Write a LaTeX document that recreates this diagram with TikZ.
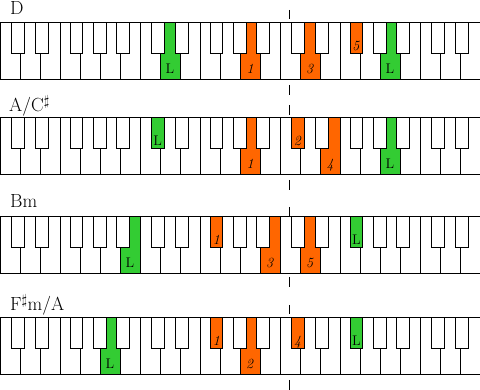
\documentclass[tikz,border=0pt]{standalone}
\definecolor{kgreen}{RGB}{51,204,51}
\definecolor{korange}{RGB}{255,102,0}
\tikzset{
  key/.style={draw=black, line width=1pt, fill=white},
  lbl/.style={font=\fontsize{14}{14}\selectfont, inner sep=0pt, anchor=base},
  chord/.style={font=\fontsize{19}{19}\selectfont, inner sep=0pt, anchor=base west},
  guide/.style={draw=black, line width=1pt}
}
% all white keys of one keyboard, top at #1
\newcommand\whitekeys[1]{%
  \foreach \i in {0,...,23} \draw[key] ({20*\i},#1) rectangle ++(20,57);}
% all black keys of one keyboard, top at #1
\newcommand\blackkeys[1]{%
  \foreach \o in {0,140,280,420}{%
    \foreach \b in {11.3,35.5,70,93.3,116.7}{%
      \pgfmathsetmacro\bx{\o+\b}%
      \ifdim \bx pt<470pt \draw[key] (\bx,#1) rectangle ++(12.7,31);\fi}}}
% coloured white key: x, top, colour, label, node name
\newcommand\wkey[5]{%
  \draw[key,fill=#3] (#1,#2) rectangle ++(20,57);
  \node[lbl] (#5) at ({#1+10},{#2+51}) {#4};}
% coloured black key: x, top, colour, label, node name
\newcommand\bkey[5]{%
  \draw[key,fill=#3] (#1,#2) rectangle ++(12.7,31);
  \node[lbl] (#5) at ({#1+6.35},{#2+27.5}) {#4};}
\begin{document}
\begin{tikzpicture}[x=1pt,y=-1pt]
\useasboundingbox (0,0) rectangle (480,390);
% middle guide dashes
\foreach \a/\b in {10/19,85/95,105/115,180/190,207/217,277/287,305/314,380/390}
  \draw[guide] (289.5,\a) -- (289.5,\b);
% chord names
\node[chord] (cD)  at (10,15)    {D};
\node[chord] (cA)  at (9,111.5)  {A/C$^\sharp$};
\node[chord] (cBm) at (10,207.5) {Bm};
\node[chord] (cFm) at (10,311)   {F$^\sharp$m/A};
% keyboard 1 : D
\whitekeys{23}
\wkey{160}{23}{kgreen}{L}{a1}
\wkey{240}{23}{korange}{\textit{1}}{a2}
\wkey{300}{23}{korange}{\textit{3}}{a3}
\wkey{380}{23}{kgreen}{L}{a4}
\blackkeys{23}
\bkey{350}{23}{korange}{\textit{5}}{a5}
% keyboard 2 : A/C#
\whitekeys{118}
\wkey{240}{118}{korange}{\textit{1}}{b1}
\wkey{320}{118}{korange}{\textit{4}}{b2}
\wkey{380}{118}{kgreen}{L}{b3}
\blackkeys{118}
\bkey{151.3}{118}{kgreen}{L}{b4}
\bkey{291.3}{118}{korange}{\textit{2}}{b5}
% keyboard 3 : Bm
\whitekeys{217}
\wkey{120}{217}{kgreen}{L}{c1}
\wkey{260}{217}{korange}{\textit{3}}{c2}
\wkey{300}{217}{korange}{\textit{5}}{c3}
\blackkeys{217}
\bkey{210}{217}{korange}{\textit{1}}{c4}
\bkey{350}{217}{kgreen}{L}{c5}
% keyboard 4 : F#m/A
\whitekeys{318}
\wkey{100}{318}{kgreen}{L}{d1}
\wkey{240}{318}{korange}{\textit{2}}{d2}
\blackkeys{318}
\bkey{210}{318}{korange}{\textit{1}}{d3}
\bkey{291.3}{318}{korange}{\textit{4}}{d4}
\bkey{350}{318}{kgreen}{L}{d5}
\end{tikzpicture}
\end{document}
